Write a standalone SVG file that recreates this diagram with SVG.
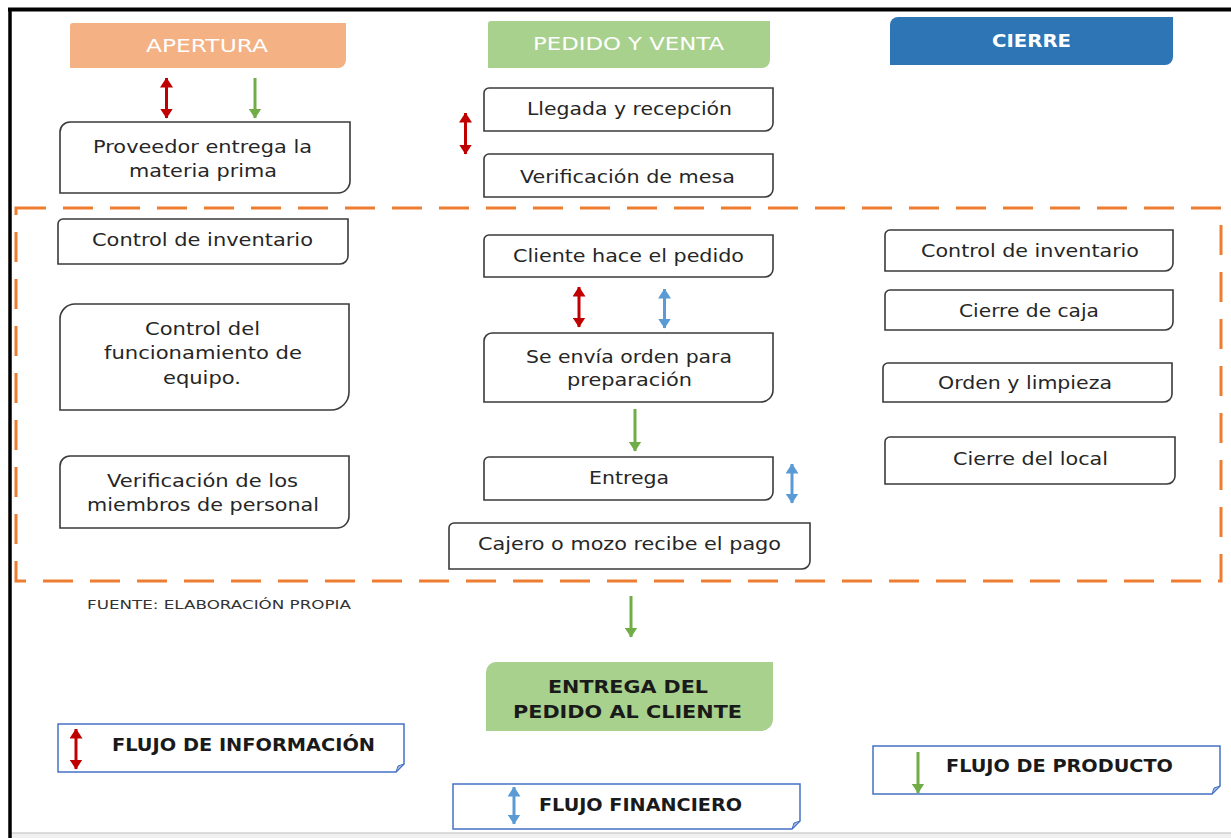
<svg xmlns="http://www.w3.org/2000/svg" width="1231" height="838" viewBox="0 0 1231 838">
<style>
.box{fill:#fff;stroke:#3a3a3a;stroke-width:1.6}
.t{font-family:"DejaVu Sans",Verdana,sans-serif;font-size:18px;fill:#262626;text-anchor:middle}
.h{font-family:"DejaVu Sans",Verdana,sans-serif;font-size:18px;fill:#fff;text-anchor:middle}
.b{font-family:"DejaVu Sans",Verdana,sans-serif;font-size:17px;font-weight:bold;fill:#1a1a1a}
.leg{fill:#fff;stroke:#4472C4;stroke-width:1.5}
.fold{fill:#9DB5E0;stroke:#4472C4;stroke-width:1}
.ar{stroke-width:3;fill:none}
</style>
<defs>
<marker id="mr" viewBox="0 0 10 13" refX="9.5" refY="6.5" markerWidth="10" markerHeight="13" markerUnits="userSpaceOnUse" orient="auto-start-reverse"><path d="M0,0 L10,6.5 L0,13 Z" fill="#C00000"/></marker>
<marker id="mb" viewBox="0 0 10 13" refX="9.5" refY="6.5" markerWidth="10" markerHeight="13" markerUnits="userSpaceOnUse" orient="auto-start-reverse"><path d="M0,0 L10,6.5 L0,13 Z" fill="#5B9BD5"/></marker>
<marker id="mg" viewBox="0 0 10 13" refX="9.5" refY="6.5" markerWidth="10" markerHeight="13" markerUnits="userSpaceOnUse" orient="auto-start-reverse"><path d="M0,0 L10,6.5 L0,13 Z" fill="#70AD47"/></marker>
</defs>
<rect x="0" y="0" width="1231" height="838" fill="#fff"/>
<rect x="10" y="833" width="1221" height="5" fill="#f0f0f0"/>
<line x1="10" y1="833" x2="1231" y2="833" stroke="#d0d0d0" stroke-width="1.5"/>
<line x1="10" y1="8" x2="10" y2="838" stroke="#000" stroke-width="3.5"/>
<line x1="8" y1="9.5" x2="1231" y2="9.5" stroke="#000" stroke-width="4"/>

<rect id="zona" x="16" y="208" width="1205" height="373" fill="none" stroke="#ED7D31" stroke-width="3" stroke-dasharray="30,17"/>

<g id="apertura"><path d="M73,23 H346 V60 A8,8 0 0 1 338,68 H70 V26 A3,3 0 0 1 73,23 Z" fill="#F4B183"/><text class="h" x="207" y="52" textLength="122" lengthAdjust="spacingAndGlyphs">APERTURA</text></g>
<g id="pedido-venta"><path d="M491,21 H770 V60 A8,8 0 0 1 762,68 H488 V24 A3,3 0 0 1 491,21 Z" fill="#A9D18E"/><text class="h" x="628.5" y="50" textLength="191" lengthAdjust="spacingAndGlyphs">PEDIDO Y VENTA</text></g>
<g id="cierre"><path d="M898,17 H1173 V57 A8,8 0 0 1 1165,65 H890 V25 A8,8 0 0 1 898,17 Z" fill="#2E75B6"/><text class="h" x="1031.5" y="47" font-weight="bold" textLength="79" lengthAdjust="spacingAndGlyphs">CIERRE</text></g>

<g id="proveedor"><path class="box" d="M70,122 H350 V181 A12,12 0 0 1 338,193 H60 V132 A10,10 0 0 1 70,122 Z"/><text class="t" x="202.5" y="153" textLength="219" lengthAdjust="spacingAndGlyphs">Proveedor entrega la</text><text class="t" x="203" y="177" textLength="148" lengthAdjust="spacingAndGlyphs">materia prima</text></g>
<g id="llegada"><path class="box" d="M489,88 H773 V123 A8,8 0 0 1 765,131 H484 V93 A5,5 0 0 1 489,88 Z"/><text class="t" x="629.5" y="115" textLength="205" lengthAdjust="spacingAndGlyphs">Llegada y recepción</text></g>
<g id="verif-mesa"><path class="box" d="M489,154 H773 V189 A8,8 0 0 1 765,197 H484 V159 A5,5 0 0 1 489,154 Z"/><text class="t" x="627.5" y="183" textLength="215" lengthAdjust="spacingAndGlyphs">Verificación de mesa</text></g>

<g id="control-inv-a"><path class="box" d="M63,219 H348 V256 A8,8 0 0 1 340,264 H58 V224 A5,5 0 0 1 63,219 Z"/><text class="t" x="202.5" y="246" textLength="221" lengthAdjust="spacingAndGlyphs">Control de inventario</text></g>
<g id="control-equipo"><path class="box" d="M75,304 H349 V392 A18,18 0 0 1 331,410 H60 V319 A15,15 0 0 1 75,304 Z"/><text class="t" x="202.5" y="335" textLength="115" lengthAdjust="spacingAndGlyphs">Control del</text><text class="t" x="203" y="359" textLength="198" lengthAdjust="spacingAndGlyphs">funcionamiento de</text><text class="t" x="202" y="384" textLength="78" lengthAdjust="spacingAndGlyphs">equipo.</text></g>
<g id="verif-personal"><path class="box" d="M70,456 H349 V516 A12,12 0 0 1 337,528 H60 V466 A10,10 0 0 1 70,456 Z"/><text class="t" x="202.5" y="487" textLength="191" lengthAdjust="spacingAndGlyphs">Verificación de los</text><text class="t" x="203" y="511" textLength="232" lengthAdjust="spacingAndGlyphs">miembros de personal</text></g>

<g id="cliente-pedido"><path class="box" d="M489,235 H773 V269 A8,8 0 0 1 765,277 H484 V240 A5,5 0 0 1 489,235 Z"/><text class="t" x="628.5" y="262" textLength="231" lengthAdjust="spacingAndGlyphs">Cliente hace el pedido</text></g>
<g id="envia-orden"><path class="box" d="M492,333 H773 V390 A12,12 0 0 1 761,402 H484 V341 A8,8 0 0 1 492,333 Z"/><text class="t" x="629" y="363" textLength="206" lengthAdjust="spacingAndGlyphs">Se envía orden para</text><text class="t" x="629.5" y="386" textLength="125" lengthAdjust="spacingAndGlyphs">preparación</text></g>
<g id="entrega"><path class="box" d="M489,457 H773 V492 A8,8 0 0 1 765,500 H484 V462 A5,5 0 0 1 489,457 Z"/><text class="t" x="629" y="484" textLength="80" lengthAdjust="spacingAndGlyphs">Entrega</text></g>
<g id="cajero"><path class="box" d="M454,523 H810 V561 A8,8 0 0 1 802,569 H449 V528 A5,5 0 0 1 454,523 Z"/><text class="t" x="629.5" y="550" textLength="303" lengthAdjust="spacingAndGlyphs">Cajero o mozo recibe el pago</text></g>

<g id="control-inv-c"><path class="box" d="M890,230 H1173 V263 A8,8 0 0 1 1165,271 H885 V235 A5,5 0 0 1 890,230 Z"/><text class="t" x="1030" y="257" textLength="218" lengthAdjust="spacingAndGlyphs">Control de inventario</text></g>
<g id="cierre-caja"><path class="box" d="M890,290 H1173 V322 A8,8 0 0 1 1165,330 H885 V295 A5,5 0 0 1 890,290 Z"/><text class="t" x="1029" y="317" textLength="140" lengthAdjust="spacingAndGlyphs">Cierre de caja</text></g>
<g id="orden-limpieza"><path class="box" d="M888,363 H1172 V394 A8,8 0 0 1 1164,402 H883 V368 A5,5 0 0 1 888,363 Z"/><text class="t" x="1025" y="389" textLength="174" lengthAdjust="spacingAndGlyphs">Orden y limpieza</text></g>
<g id="cierre-local"><path class="box" d="M890,437 H1175 V476 A8,8 0 0 1 1167,484 H885 V442 A5,5 0 0 1 890,437 Z"/><text class="t" x="1030.5" y="465" textLength="155" lengthAdjust="spacingAndGlyphs">Cierre del local</text></g>

<text id="fuente" x="87" y="609" font-family="'DejaVu Sans',Verdana,sans-serif" font-size="13" fill="#333" textLength="264" lengthAdjust="spacingAndGlyphs">FUENTE: ELABORACIÓN PROPIA</text>

<g id="entrega-cliente"><path d="M496,662 H773 V719 A12,12 0 0 1 761,731 H486 V672 A10,10 0 0 1 496,662 Z" fill="#A9D18E"/><text class="b" x="628" y="693" text-anchor="middle" textLength="160" lengthAdjust="spacingAndGlyphs">ENTREGA DEL</text><text class="b" x="627.5" y="718" text-anchor="middle" textLength="229" lengthAdjust="spacingAndGlyphs">PEDIDO AL CLIENTE</text></g>

<g id="leyenda-informacion"><path class="leg" d="M58,724 H404 V764 L396,772 H58 Z"/><path class="fold" d="M396,772 L398,766 L404,764 Z"/><line class="ar" x1="76" y1="729" x2="76" y2="769" stroke="#C00000" marker-start="url(#mr)" marker-end="url(#mr)"/><text class="b" x="112" y="751" textLength="263" lengthAdjust="spacingAndGlyphs">FLUJO DE INFORMACIÓN</text></g>
<g id="leyenda-financiero"><path class="leg" d="M453,784 H800 V821 L792,829 H453 Z"/><path class="fold" d="M792,829 L794,823 L800,821 Z"/><line class="ar" x1="514" y1="787" x2="514" y2="824" stroke="#5B9BD5" marker-start="url(#mb)" marker-end="url(#mb)"/><text class="b" x="539" y="811" textLength="203" lengthAdjust="spacingAndGlyphs">FLUJO FINANCIERO</text></g>
<g id="leyenda-producto"><path class="leg" d="M873,746 H1220 V786 L1212,794 H873 Z"/><path class="fold" d="M1212,794 L1214,788 L1220,786 Z"/><line class="ar" x1="918" y1="752" x2="918" y2="793" stroke="#70AD47" marker-end="url(#mg)"/><text class="b" x="946" y="772" textLength="227" lengthAdjust="spacingAndGlyphs">FLUJO DE PRODUCTO</text></g>

<g id="connectors">
<line class="ar" x1="166.5" y1="78" x2="166.5" y2="118" stroke="#C00000" marker-start="url(#mr)" marker-end="url(#mr)"/>
<line class="ar" x1="255" y1="78" x2="255" y2="118" stroke="#70AD47" marker-end="url(#mg)"/>
<line class="ar" x1="465.5" y1="113" x2="465.5" y2="154" stroke="#C00000" marker-start="url(#mr)" marker-end="url(#mr)"/>
<line class="ar" x1="579" y1="287" x2="579" y2="327" stroke="#C00000" marker-start="url(#mr)" marker-end="url(#mr)"/>
<line class="ar" x1="664.5" y1="289" x2="664.5" y2="328" stroke="#5B9BD5" marker-start="url(#mb)" marker-end="url(#mb)"/>
<line class="ar" x1="635" y1="409" x2="635" y2="451" stroke="#70AD47" marker-end="url(#mg)"/>
<line class="ar" x1="792" y1="464" x2="792" y2="503" stroke="#5B9BD5" marker-start="url(#mb)" marker-end="url(#mb)"/>
<line class="ar" x1="631" y1="596" x2="631" y2="637" stroke="#70AD47" marker-end="url(#mg)"/>
</g>
</svg>
